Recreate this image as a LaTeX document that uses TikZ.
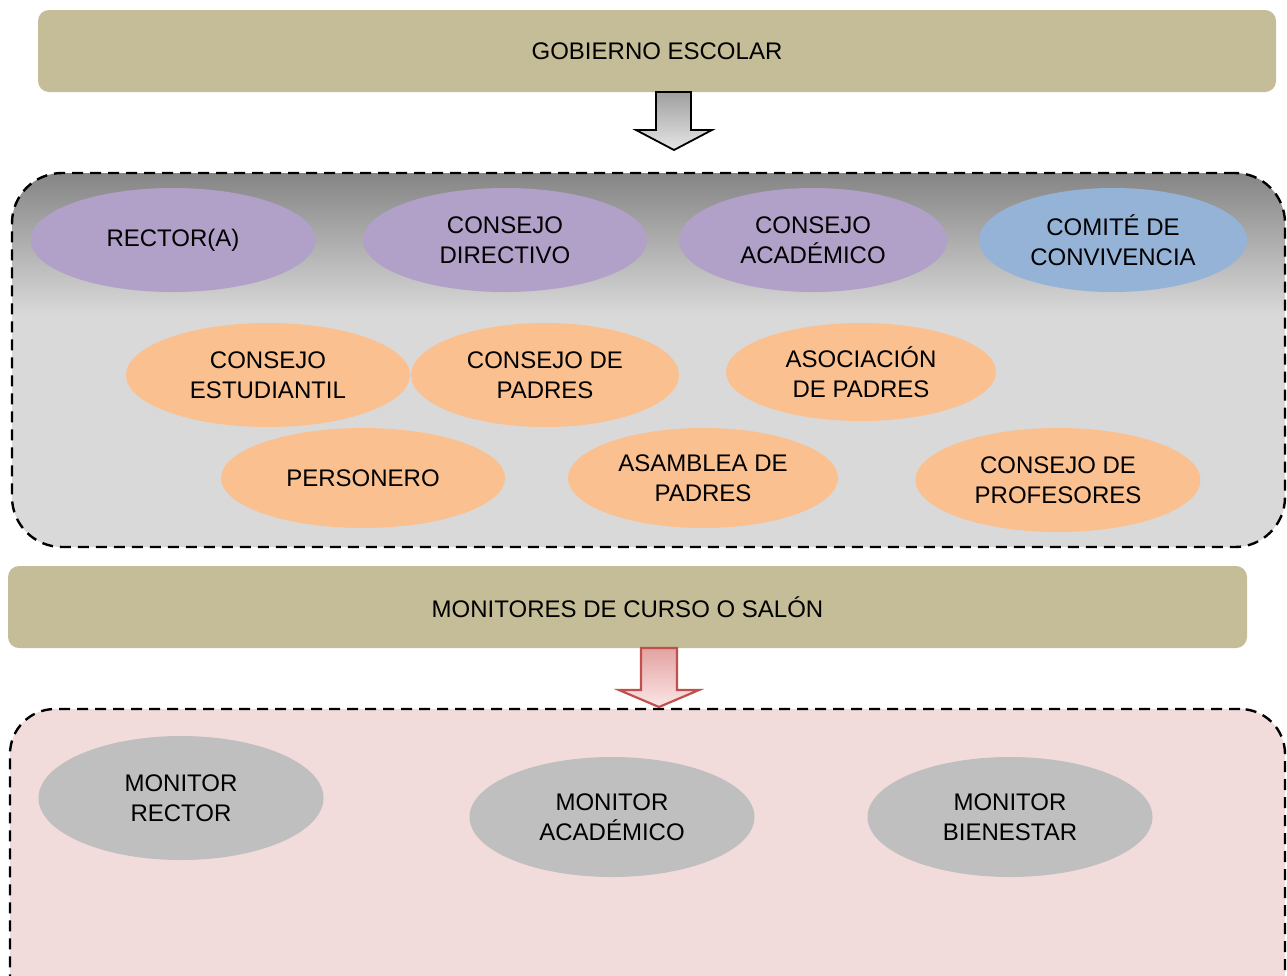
\documentclass[tikz,border=0pt]{standalone}
\usepackage{fontspec}
\setmainfont{Liberation Sans}
\usetikzlibrary{shapes.geometric}
\definecolor{tanbar}{HTML}{C4BD97}
\definecolor{purp}{HTML}{B1A0C7}
\definecolor{bluee}{HTML}{95B3D7}
\definecolor{orng}{HTML}{FAC090}
\definecolor{grayell}{HTML}{BFBFBF}
\definecolor{graylight}{HTML}{D9D9D9}
\definecolor{graydark}{HTML}{858585}
\definecolor{pinkbox}{HTML}{F2DCDB}
\definecolor{redline}{HTML}{C0504D}
\definecolor{pinktop}{HTML}{E4A2A2}
\definecolor{pinkbot}{HTML}{FBE6E6}
\pgfdeclareverticalshading{boxshade}{100bp}{color(0bp)=(graylight); color(56bp)=(graylight); color(75bp)=(graydark); color(100bp)=(graydark)}
\begin{document}
\begin{tikzpicture}[x=1pt,y=-1pt,
  txt/.style={font=\fontsize{24}{30}\selectfont, text=black, align=center},
  bar/.style={txt, fill=tanbar, rounded corners=11pt, inner sep=0pt},
  ell/.style={txt, ellipse, inner sep=0pt},
  dashbox/.style={draw=black, line width=2.4pt, dash pattern=on 11pt off 7pt},
  pill/.style={ell, fill=purp, minimum width=285pt, minimum height=104pt},
  orng ell/.style={ell, fill=orng, minimum width=285pt, minimum height=100pt},
  mon/.style={ell, fill=grayell, minimum width=285pt, minimum height=120pt}
]
\clip (0,0) rectangle (1287,975);
\fill[white] (0,0) rectangle (1287,975);

% top bar
\node[bar, minimum width=1238pt, minimum height=82pt] (gob) at (657,51) {GOBIERNO ESCOLAR};

% gray box
\node[dashbox, rounded corners=50pt, minimum width=1273pt, minimum height=374pt, inner sep=0pt,
  shading=boxshade] (gobbox) at (648.5,360) {};

% arrow 1
\coordinate (a1top) at (674,92);
\coordinate (a1tip) at (674,150);
\shadedraw[top color=gray!75, bottom color=gray!20, draw=black, line width=1.8pt, line join=miter]
  ([xshift=-18pt]a1top) -- ([xshift=17pt]a1top) -- ([xshift=17pt]a1top |- 0,130) -- ([xshift=38pt]a1top |- 0,130)
  -- (a1tip) -- ([xshift=-38pt]a1top |- 0,130) -- ([xshift=-18pt]a1top |- 0,130) -- cycle;

% row 1
\node[pill, minimum width=285pt] (rector) at (173,240) {RECTOR(A)};
\node[pill, minimum width=284pt] (cdir) at (505,240) {CONSEJO\\DIRECTIVO};
\node[pill, minimum width=268pt] (cacad) at (813,240) {CONSEJO\\ACADÉMICO};
\node[pill, fill=bluee, minimum width=268pt] (comite) at (1113,240) {COMITÉ DE\\CONVIVENCIA};

% row 2
\node[orng ell, minimum width=284pt, minimum height=104pt] (cest) at (268,375) {CONSEJO\\ESTUDIANTIL};
\node[orng ell, minimum width=268pt, minimum height=104pt] (cpad) at (545,375) {CONSEJO DE\\PADRES};
\node[orng ell, minimum width=270pt, minimum height=98pt] (asoc) at (861,372) {ASOCIACIÓN\\DE PADRES};

% row 3
\node[orng ell, minimum width=284pt] (pers) at (363,478) {PERSONERO};
\node[orng ell, minimum width=270pt] (asam) at (703,478) {ASAMBLEA DE\\PADRES};
\node[orng ell, minimum width=285pt, minimum height=104pt] (cprof) at (1058,480) {CONSEJO DE\\PROFESORES};

% monitores bar
\node[bar, minimum width=1239pt, minimum height=82pt] (moni) at (627.5,607) {MONITORES DE CURSO O SALÓN};

% pink box
\node[dashbox, fill=pinkbox, rounded corners=45pt, minimum width=1275pt, minimum height=320pt, inner sep=0pt] (monbox) at (647.5,869) {};

% arrow 2
\coordinate (a2top) at (659,648);
\coordinate (a2tip) at (659,707);
\shadedraw[top color=pinktop, bottom color=pinkbot, draw=redline, line width=2.2pt, line join=miter]
  ([xshift=-18pt]a2top) -- ([xshift=18pt]a2top) -- ([xshift=18pt]a2top |- 0,690) -- ([xshift=40pt]a2top |- 0,690)
  -- (a2tip) -- ([xshift=-40pt]a2top |- 0,690) -- ([xshift=-18pt]a2top |- 0,690) -- cycle;

% monitors
\node[mon, minimum height=124pt] (mrect) at (181,798) {MONITOR\\RECTOR};
\node[mon] (macad) at (612,817) {MONITOR\\ACADÉMICO};
\node[mon] (mbien) at (1010,817) {MONITOR\\BIENESTAR};
\end{tikzpicture}
\end{document}
